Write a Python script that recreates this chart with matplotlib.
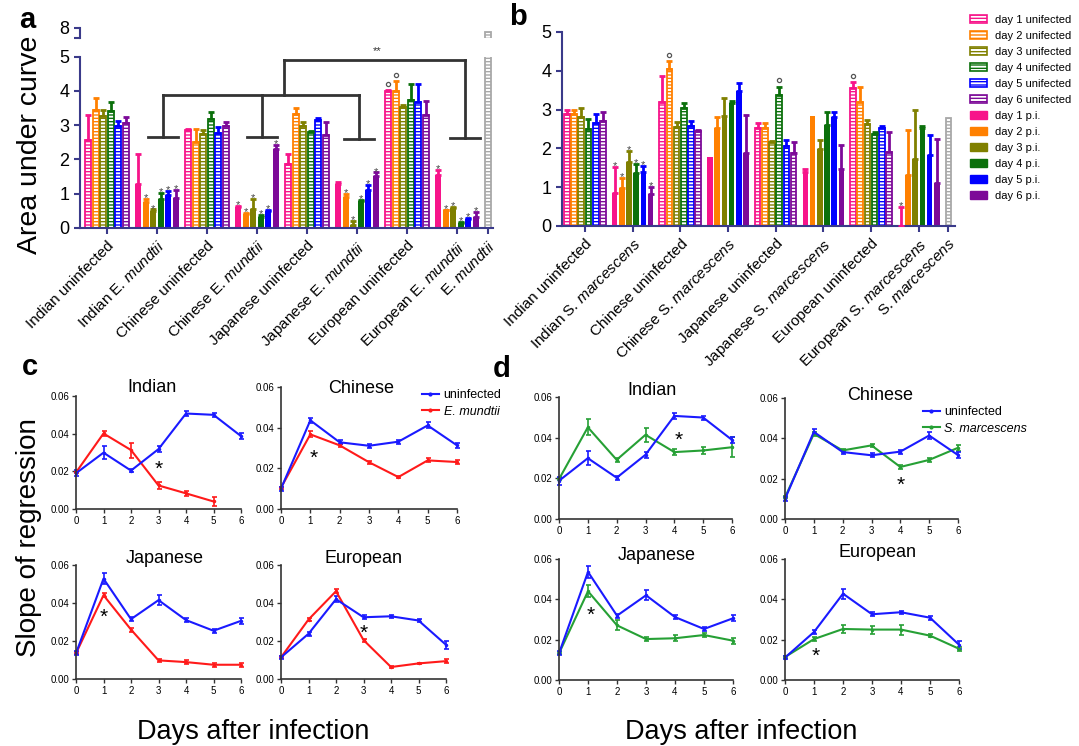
import numpy as np
import matplotlib.pyplot as plt
from matplotlib.patches import Patch
from matplotlib.lines import Line2D
from matplotlib.ticker import FormatStrFormatter

plt.rcParams['font.family'] = ['Liberation Sans', 'DejaVu Sans']
plt.rcParams['mathtext.fontset'] = 'custom'
plt.rcParams['mathtext.rm'] = 'Liberation Sans'
plt.rcParams['mathtext.it'] = 'Liberation Sans:italic'
plt.rcParams['hatch.linewidth'] = 1.0

W, H = 1079, 746

# --- Datos panel a: area bajo la curva, E. mundtii ---
labels_a = ['Indian uninfected', r'Indian E. $\mathit{mundtii}$',
            'Chinese uninfected', r'Chinese E. $\mathit{mundtii}$',
            'Japanese uninfected', r'Japanese E. $\mathit{mundtii}$',
            'European uninfected', r'European E. $\mathit{mundtii}$',
            r'E. $\mathit{mundtii}$']
auc_a = [[2.58, 3.45, 3.27, 3.42, 2.99, 3.07],
         [1.27, 0.77, 0.51, 0.84, 0.96, 0.89],
         [2.87, 2.52, 2.73, 3.17, 2.77, 2.99],
         [0.61, 0.42, 0.56, 0.33, 0.51, 2.30],
         [1.88, 3.34, 2.97, 2.81, 3.15, 2.70],
         [1.27, 0.91, 0.09, 0.80, 1.12, 1.51],
         [4.00, 4.00, 3.54, 3.75, 3.68, 3.30],
         [1.55, 0.52, 0.57, 0.16, 0.27, 0.31]]
sem_a = [[0.72, 0.33, 0.18, 0.26, 0.13, 0.18],
         [0.88, 0.08, 0.03, 0.18, 0.12, 0.21],
         [0.02, 0.38, 0.13, 0.23, 0.18, 0.11],
         [0.02, 0.02, 0.29, 0.04, 0.01, 0.12],
         [0.27, 0.16, 0.13, 0.02, 0.07, 0.38],
         [0.08, 0.09, 0.11, 0.03, 0.13, 0.11],
         [0.02, 0.30, 0.04, 0.45, 0.52, 0.40],
         [0.15, 0.01, 0.03, 0.02, 0.02, 0.16]]
ctrl_a = 7.9
stars_a = {1: [1, 2, 3, 4, 5], 3: [0, 1, 2, 3, 4, 5], 5: [1, 2, 3, 4, 5], 7: [0, 1, 2, 3, 4, 5]}
circles_a = {6: [0, 1]}

# --- Datos panel b: area bajo la curva, S. marcescens ---
labels_b = ['Indian uninfected', r'Indian S. $\mathit{marcescens}$',
            'Chinese uninfected', r'Chinese S. $\mathit{marcescens}$',
            'Japanese uninfected', r'Japanese S. $\mathit{marcescens}$',
            'European uninfected', r'European S. $\mathit{marcescens}$',
            r'S. $\mathit{marcescens}$']
auc_b = [[2.88, 2.88, 2.80, 2.50, 2.65, 2.70],
         [0.84, 0.98, 1.65, 1.37, 1.40, 0.82],
         [3.20, 4.05, 2.55, 3.04, 2.59, 2.44],
         [1.77, 2.52, 2.83, 3.18, 3.47, 1.87],
         [2.52, 2.52, 2.16, 3.37, 2.05, 1.88],
         [1.40, 2.84, 1.99, 2.60, 2.82, 1.47],
         [3.56, 3.20, 2.64, 2.38, 2.52, 1.92],
         [0.00, 1.32, 1.73, 2.53, 1.83, 1.10]]
sem_b = [[0.10, 0.10, 0.24, 0.25, 0.23, 0.25],
         [0.68, 0.27, 0.28, 0.23, 0.15, 0.18],
         [0.67, 0.20, 0.12, 0.14, 0.11, 0.04],
         [0.00, 0.28, 0.47, 0.04, 0.21, 0.99],
         [0.14, 0.14, 0.04, 0.21, 0.17, 0.28],
         [0.08, 0.00, 0.23, 0.33, 0.13, 0.62],
         [0.14, 0.37, 0.08, 0.05, 0.05, 0.51],
         [0.48, 1.16, 1.27, 0.05, 0.52, 1.13]]
ctrl_b = 2.79
stars_b = {1: [0, 1, 2, 3, 4, 5], 7: [0]}
circles_b = {2: [1], 4: [3], 6: [0]}

day_colors = ['#f7148a', '#ff8000', '#808000', '#0b700b', '#0000ff', '#7d0a98']
legend_labels = ['day %d unifected' % d for d in range(1, 7)] + ['day %d p.i.' % d for d in range(1, 7)]

# --- Datos paneles c y d: pendiente de regresion ---
days = [0, 1, 2, 3, 4, 5, 6]
strains = ['Indian', 'Chinese', 'Japanese', 'European']

c_uninf = [[0.0190, 0.0299, 0.0204, 0.0318, 0.0507, 0.0500, 0.0387],
           [0.0100, 0.0436, 0.0328, 0.0311, 0.0331, 0.0411, 0.0313],
           [0.0135, 0.0528, 0.0315, 0.0415, 0.0310, 0.0254, 0.0306],
           [0.0114, 0.0238, 0.0420, 0.0325, 0.0330, 0.0308, 0.0180]]
c_uninf_err = [[0.0015, 0.0035, 0.0010, 0.0015, 0.0015, 0.0010, 0.0015],
               [0.0010, 0.0012, 0.0010, 0.0010, 0.0010, 0.0015, 0.0012],
               [0.0010, 0.0030, 0.0010, 0.0025, 0.0010, 0.0010, 0.0015],
               [0.0008, 0.0010, 0.0015, 0.0010, 0.0008, 0.0010, 0.0020]]
c_inf = [[0.0194, 0.0401, 0.0313, 0.0125, 0.0083, 0.0040],
         [0.0105, 0.0367, 0.0313, 0.0230, 0.0157, 0.0239, 0.0231],
         [0.0135, 0.0441, 0.0260, 0.0098, 0.0089, 0.0075, 0.0075],
         [0.0114, 0.0313, 0.0462, 0.0205, 0.0063, 0.0082, 0.0094]]
c_inf_err = [[0.0005, 0.0012, 0.0040, 0.0018, 0.0012, 0.0025],
             [0.0005, 0.0015, 0.0008, 0.0008, 0.0003, 0.0010, 0.0010],
             [0.0005, 0.0012, 0.0010, 0.0008, 0.0010, 0.0010, 0.0010],
             [0.0005, 0.0010, 0.0010, 0.0008, 0.0003, 0.0003, 0.0010]]
c_stars = [(3, 0.0243), (1.1, 0.0280), (1, 0.0357), (3, 0.0275)]

d_uninf = [[0.0188, 0.0299, 0.0203, 0.0316, 0.0507, 0.0499, 0.0389],
           [0.0099, 0.0432, 0.0332, 0.0316, 0.0334, 0.0414, 0.0317],
           [0.0132, 0.0536, 0.0319, 0.0420, 0.0312, 0.0253, 0.0306],
           [0.0111, 0.0238, 0.0428, 0.0326, 0.0336, 0.0309, 0.0175]]
d_uninf_err = [[0.0020, 0.0035, 0.0010, 0.0015, 0.0015, 0.0010, 0.0015],
               [0.0010, 0.0012, 0.0012, 0.0010, 0.0010, 0.0015, 0.0015],
               [0.0010, 0.0030, 0.0010, 0.0025, 0.0010, 0.0010, 0.0015],
               [0.0008, 0.0010, 0.0025, 0.0010, 0.0008, 0.0010, 0.0020]]
d_inf = [[0.0196, 0.0451, 0.0291, 0.0414, 0.0329, 0.0337, 0.0353],
         [0.0107, 0.0422, 0.0340, 0.0365, 0.0258, 0.0293, 0.0353],
         [0.0132, 0.0440, 0.0271, 0.0203, 0.0207, 0.0223, 0.0195],
         [0.0114, 0.0203, 0.0253, 0.0250, 0.0250, 0.0220, 0.0155]]
d_inf_err = [[0.0005, 0.0040, 0.0010, 0.0035, 0.0015, 0.0015, 0.0050],
             [0.0005, 0.0010, 0.0008, 0.0008, 0.0010, 0.0008, 0.0015],
             [0.0005, 0.0030, 0.0025, 0.0010, 0.0015, 0.0012, 0.0015],
             [0.0005, 0.0008, 0.0018, 0.0020, 0.0025, 0.0008, 0.0010]]
d_stars = [(4.15, 0.0417), (4, 0.0197), (1.1, 0.0354), (1.05, 0.0147)]

axis_color = '#3a3a8a'


def px_axes(fig, l, t, r, b):
    return fig.add_axes([l / W, 1 - b / H, (r - l) / W, (b - t) / H])


def style_bar_axes(ax):
    for s in ['top', 'right']:
        ax.spines[s].set_visible(False)
    for s in ['left', 'bottom']:
        ax.spines[s].set_color(axis_color)
        ax.spines[s].set_linewidth(1.5)
    ax.tick_params(colors=axis_color, labelcolor='black', length=4, width=1.5)


def draw_bars(ax, means, sems, stars, circles, ctrl, labels, pitch, width):
    offs = (np.arange(6) - 2.5) * pitch
    for g in range(len(means)):
        for d in range(6):
            x = g + offs[d]
            c = day_colors[d]
            m, s = means[g][d], sems[g][d]
            if g % 2 == 0:
                ax.bar(x, m, width, facecolor='white', edgecolor=c, hatch='-----', linewidth=1.3, zorder=2)
            else:
                ax.bar(x, m, width, color=c, linewidth=0, zorder=2)
            if s > 0:
                ax.errorbar(x, m, yerr=[[0], [s]], fmt='none', ecolor=c, elinewidth=2,
                            capsize=2, capthick=2, zorder=3)
            top = m + s
            if d in stars.get(g, []):
                ax.annotate('*', (x, top), xytext=(0, -1.5), textcoords='offset points',
                            ha='center', va='baseline', fontsize=8, color='#444444')
            if d in circles.get(g, []):
                ax.plot(x, top + 0.17, 'o', ms=3, mfc='none', mec='#555555', mew=0.9)
    xc = len(means) - 0.38
    ax.bar(xc, ctrl, width, facecolor='white', edgecolor='#a8a8a8', hatch='-----', linewidth=1.3, zorder=2)
    ax.set_xticks(list(range(len(means))) + [xc])
    ax.set_xticklabels(labels, rotation=45, ha='right', rotation_mode='anchor', fontsize=11)
    return xc


def draw_lines(ax, u, ue, inf, ie, icolor, star):
    for y, e, c in [(inf, ie, icolor), (u, ue, '#1a1aff')]:
        cont = ax.errorbar(days[:len(y)], y, yerr=e, color=c, lw=1.5, marker='.', ms=3,
                           elinewidth=1.2, capsize=1.8, capthick=1.2)
        for art in [cont.lines[0], *cont.lines[1], *cont.lines[2]]:
            art.set_clip_on(False)
    ax.annotate('*', star, xytext=(0, -8.5), textcoords='offset points',
                ha='center', va='baseline', fontsize=15)
    ax.set_xlim(0, 6)
    ax.set_ylim(0, 0.06)
    ax.set_xticks(days)
    ax.set_yticks([0, 0.02, 0.04, 0.06])
    ax.yaxis.set_major_formatter(FormatStrFormatter('%.2f'))
    for s in ['top', 'right']:
        ax.spines[s].set_visible(False)
    for s in ['left', 'bottom']:
        ax.spines[s].set_color('#333333')
        ax.spines[s].set_linewidth(1.2)
    ax.tick_params(labelsize=7, length=3, width=1, color='#333333', pad=2)


fig = plt.figure(figsize=(W / 100, H / 100), dpi=100)

# --- Panel a ---
ax_a = px_axes(fig, 80, 56.7, 493, 228)
xc_a = draw_bars(ax_a, auc_a, sem_a, stars_a, circles_a, ctrl_a, labels_a, 0.149, 0.118)
ax_a.set_xlim(-0.54, 7.72)
ax_a.set_ylim(0, 5)
ax_a.set_yticks(range(6))
style_bar_axes(ax_a)
ax_a.tick_params(axis='y', labelsize=13)

# trozo superior del eje roto (control sin insectos)
ax_a2 = px_axes(fig, 80, 28, 493, 38)
ax_a2.bar(xc_a, ctrl_a, 0.118, facecolor='white', edgecolor='#a8a8a8', hatch='-----', linewidth=1.3)
ax_a2.set_xlim(-0.54, 7.72)
ax_a2.set_ylim(7.76, 8.0)
ax_a2.set_yticks([7.76, 8.0])
ax_a2.set_yticklabels(['', '8'])
ax_a2.set_xticks([])
style_bar_axes(ax_a2)
ax_a2.spines['bottom'].set_visible(False)
ax_a2.tick_params(axis='y', labelsize=13)

# dendrograma sobre los grupos infectados
tree_color = '#333333'
leaf_x = [1.12, 3.10, 5.04, 7.16]
leaf_y = [2.65, 2.65, 2.60, 2.62]
for lx, ly in zip(leaf_x, leaf_y):
    ax_a.plot([lx - 0.3, lx + 0.3], [ly, ly], color=tree_color, lw=2)
for lx, ly in zip(leaf_x[:3], leaf_y[:3]):
    ax_a.plot([lx, lx], [ly, 3.88], color=tree_color, lw=2)
ax_a.plot([leaf_x[0], leaf_x[2]], [3.88, 3.88], color=tree_color, lw=2)
ax_a.plot([3.54, 3.54], [3.88, 4.9], color=tree_color, lw=2)
ax_a.plot([leaf_x[3], leaf_x[3]], [leaf_y[3], 4.9], color=tree_color, lw=2)
ax_a.plot([3.54, leaf_x[3]], [4.9, 4.9], color=tree_color, lw=2)
ax_a.text(5.4, 5.02, '**', ha='center', va='bottom', fontsize=8, color='#333333', clip_on=False)

# --- Panel b ---
ax_b = px_axes(fig, 562, 32, 955, 226)
draw_bars(ax_b, auc_b, sem_b, stars_b, circles_b, ctrl_b, labels_b, 0.151, 0.118)
ax_b.set_xlim(-0.48, 7.76)
ax_b.set_ylim(0, 5)
ax_b.set_yticks(range(6))
style_bar_axes(ax_b)
ax_b.tick_params(axis='y', labelsize=13)

handles = [Patch(facecolor='white', edgecolor=c, hatch='-----', linewidth=1.2) for c in day_colors]
handles += [Patch(facecolor=c, edgecolor=c) for c in day_colors]
fig.legend(handles, legend_labels, loc='upper left', bbox_to_anchor=(964 / W, 1 - 9 / H),
           frameon=False, fontsize=8, handlelength=1.6, handleheight=0.8,
           labelspacing=0.53, borderpad=0, handletextpad=0.7)

# --- Paneles c y d ---
c_boxes = [(76, 396, 241, 509), (281, 387, 457, 509), (76, 565, 241, 679), (281, 565, 446, 679)]
d_boxes = [(559, 397, 732, 519), (785, 398, 958, 519), (559, 559, 733, 680), (785, 559, 959, 680)]
# posicion de los titulos (centro x, linea base y) en pixeles
c_titles = [(152, 392), (361, 393), (165, 563), (363, 563)]
d_titles = [(652, 395), (880, 400), (657, 560), (878, 557)]
for i in range(4):
    ax = px_axes(fig, *c_boxes[i])
    draw_lines(ax, c_uninf[i], c_uninf_err[i], c_inf[i], c_inf_err[i], '#ff1a1a', c_stars[i])
    fig.text(c_titles[i][0] / W, 1 - c_titles[i][1] / H, strains[i], fontsize=13, ha='center', va='baseline')
    ax = px_axes(fig, *d_boxes[i])
    draw_lines(ax, d_uninf[i], d_uninf_err[i], d_inf[i], d_inf_err[i], '#26a035', d_stars[i])
    fig.text(d_titles[i][0] / W, 1 - d_titles[i][1] / H, strains[i], fontsize=13, ha='center', va='baseline')

for lab, col, xy in [('E. mundtii', '#ff1a1a', (416, 383)), ('S. marcescens', '#26a035', (917, 400))]:
    hs = [Line2D([], [], color='#1a1aff', marker='.', ms=4, lw=1.5),
          Line2D([], [], color=col, marker='.', ms=4, lw=1.5)]
    leg = fig.legend(hs, ['uninfected', lab], loc='upper left', bbox_to_anchor=(xy[0] / W, 1 - xy[1] / H),
                     frameon=False, fontsize=9, handlelength=1.3, labelspacing=0.35,
                     borderpad=0, handletextpad=0.4)
    leg.get_texts()[1].set_style('italic')

# --- Textos de la figura ---
for t, x, y in [('a', 27, 20), ('b', 518, 17), ('c', 30, 367), ('d', 502, 369)]:
    fig.text(x / W, 1 - y / H, t, fontsize=21, fontweight='bold', ha='center', va='center')
fig.text(30 / W, 1 - 145 / H, 'Area under curve', rotation=90, fontsize=20.5, ha='center', va='center')
fig.text(29 / W, 1 - 538 / H, 'Slope of regression', rotation=90, fontsize=20, ha='center', va='center')
fig.text(253 / W, 1 - 732 / H, 'Days after infection', fontsize=19.5, ha='center', va='center')
fig.text(741 / W, 1 - 732 / H, 'Days after infection', fontsize=19.5, ha='center', va='center')

fig.savefig('out.png', dpi=100)
